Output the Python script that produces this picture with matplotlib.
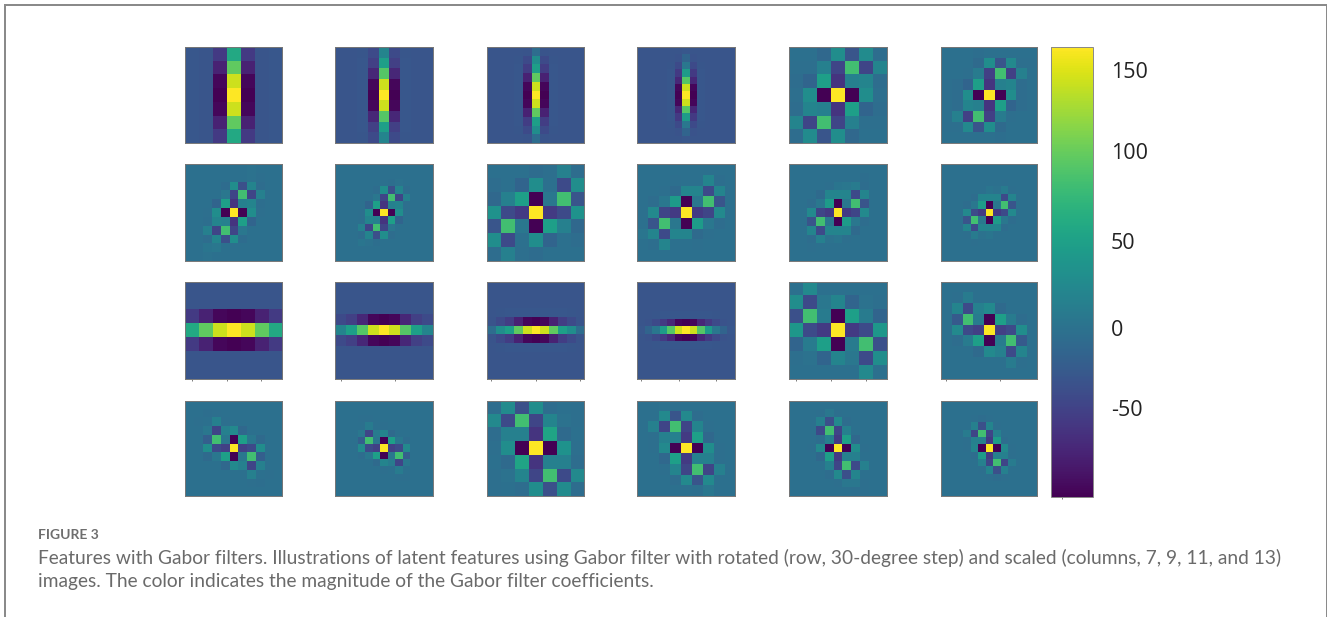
import matplotlib
matplotlib.use('Agg')
import matplotlib.pyplot as plt
from matplotlib.cm import ScalarMappable
from matplotlib.colors import Normalize
from matplotlib.patches import Rectangle

W, H = 1328, 617

# Values, one grid per panel (row, column)
r1c1 = [[-28,-30,-55,60,-55,-30,-28],
        [-28,-30,-75,100,-75,-30,-28],
        [-28,-30,-95,145,-95,-30,-28],
        [-28,-30,-100,165,-100,-30,-28],
        [-28,-30,-95,145,-95,-30,-28],
        [-28,-30,-75,100,-75,-30,-28],
        [-28,-30,-55,60,-55,-30,-28]]
r1c2 = [[-30,-30,-29,-40,20,-40,-29,-30,-30],
        [-30,-30,-28,-50,50,-50,-28,-30,-30],
        [-30,-30,-28,-70,95,-70,-28,-30,-30],
        [-30,-30,-28,-95,145,-95,-28,-30,-30],
        [-30,-30,-28,-100,165,-100,-28,-30,-30],
        [-30,-30,-28,-95,145,-95,-28,-30,-30],
        [-30,-30,-28,-70,95,-70,-28,-30,-30],
        [-30,-30,-28,-50,50,-50,-28,-30,-30],
        [-30,-30,-29,-40,20,-40,-29,-30,-30]]
r1c3 = [[-30,-30,-30,-30,-31,-5,-31,-30,-30,-30,-30],
        [-30,-30,-30,-29,-40,30,-40,-29,-30,-30,-30],
        [-30,-30,-30,-28,-52,50,-52,-28,-30,-30,-30],
        [-30,-30,-30,-28,-75,100,-75,-28,-30,-30,-30],
        [-30,-30,-30,-28,-95,145,-95,-28,-30,-30,-30],
        [-30,-30,-30,-28,-100,165,-100,-28,-30,-30,-30],
        [-30,-30,-30,-28,-95,145,-95,-28,-30,-30,-30],
        [-30,-30,-30,-28,-75,100,-75,-28,-30,-30,-30],
        [-30,-30,-30,-28,-52,50,-52,-28,-30,-30,-30],
        [-30,-30,-30,-29,-40,30,-40,-29,-30,-30,-30],
        [-30,-30,-30,-30,-31,-5,-31,-30,-30,-30,-30]]
r1c4 = [[-30,-30,-30,-30,-30,-30,-28,-30,-30,-30,-30,-30,-30],
        [-30,-30,-30,-30,-30,-32,-15,-32,-30,-30,-30,-30,-30],
        [-30,-30,-30,-30,-29,-40,5,-40,-29,-30,-30,-30,-30],
        [-30,-30,-30,-30,-28,-55,45,-55,-28,-30,-30,-30,-30],
        [-30,-30,-30,-30,-28,-70,95,-70,-28,-30,-30,-30,-30],
        [-30,-30,-30,-30,-28,-95,145,-95,-28,-30,-30,-30,-30],
        [-30,-30,-30,-30,-28,-100,165,-100,-28,-30,-30,-30,-30],
        [-30,-30,-30,-30,-28,-95,145,-95,-28,-30,-30,-30,-30],
        [-30,-30,-30,-30,-28,-70,95,-70,-28,-30,-30,-30,-30],
        [-30,-30,-30,-30,-28,-55,45,-55,-28,-30,-30,-30,-30],
        [-30,-30,-30,-30,-29,-40,5,-40,-29,-30,-30,-30,-30],
        [-30,-30,-30,-30,-30,-32,-15,-32,-30,-30,-30,-30,-30],
        [-30,-30,-30,-30,-30,-30,-28,-30,-30,-30,-30,-30,-30]]
r1c5 = [[-2,-2,-10,30,-30,28,-5],
        [-3,-3,15,-45,85,-45,20],
        [-5,-15,50,-60,15,20,-5],
        [-3,30,-100,165,-100,30,-3],
        [-5,20,15,-60,50,-15,-5],
        [20,-45,85,-45,15,-3,-3],
        [-5,28,-30,30,-10,-2,-2]]
r1c6 = [[-2,-2,-2,-4,-2,-2,-2,-2,-2],
        [-2,-2,-2,-8,30,-30,25,-3,-3],
        [-2,-2,-3,10,-50,85,-50,15,-2],
        [-3,-5,-15,50,-60,15,20,-5,-2],
        [-3,-5,30,-100,165,-100,30,-5,-3],
        [-2,-5,20,15,-60,50,-15,-5,-3],
        [-2,15,-50,85,-50,10,-3,-2,-2],
        [-3,-3,25,-30,30,-8,-2,-2,-2],
        [-2,-2,-2,-2,-2,-4,-2,-2,-2]]

r2c1 = [[-2,-2,-2,-2,-2,-2,-2,0,-2,-2,-2],
        [-2,-2,-2,-2,-2,-2,-2,0,-3,-2,-2],
        [-2,-2,-2,-2,-6,30,-35,20,-5,-2,-2],
        [-2,-2,-2,-2,5,-45,85,-45,15,-2,-2],
        [-2,-2,-2,-15,50,-60,15,20,-4,-2,-2],
        [-2,-2,-3,30,-100,165,-100,30,-3,-2,-2],
        [-2,-2,-4,20,15,-60,50,-15,-2,-2,-2],
        [-2,-2,15,-45,85,-45,5,-2,-2,-2,-2],
        [-2,-2,-5,20,-35,30,-6,-2,-2,-2,-2],
        [-2,-2,3,5,-2,-2,-2,-2,-2,-2,-2],
        [-2,-2,0,-2,-2,-2,-2,-2,-2,-2,-2]]
r2c2 = [[-2,-2,-2,-2,-2,-2,-2,-2,-2,-2,-2,-2,-2],
        [-2,-2,-2,-2,-2,-2,-2,-2,-2,-2,-2,-2,-2],
        [-2,-2,-2,-2,-2,-2,-2,-4,0,-2,-2,-2,-2],
        [-2,-2,-2,-2,-2,-5,30,-35,20,-5,-2,-2,-2],
        [-2,-2,-2,-2,-2,5,-45,85,-45,15,-2,-2,-2],
        [-2,-2,-2,-2,-15,50,-60,15,20,-3,-2,-2,-2],
        [-2,-2,-2,-3,30,-100,165,-100,30,-3,-2,-2,-2],
        [-2,-2,-2,-3,20,15,-60,50,-15,-2,-2,-2,-2],
        [-2,-2,-2,15,-45,85,-45,5,-2,-2,-2,-2,-2],
        [-2,-2,-2,-5,20,-35,30,-5,-2,-2,-2,-2,-2],
        [-2,-2,-2,3,0,-4,-2,-2,-2,-2,-2,-2,-2],
        [-2,-2,-2,-2,-2,-2,-2,-2,-2,-2,-2,-2,-2],
        [-2,-2,-2,-2,-2,-2,-2,-2,-2,-2,-2,-2,-2]]
r2c3 = [[-2,-2,-2,-6,-3,15,-5],
        [-5,-2,-15,30,-2,-40,30],
        [-10,15,50,-100,5,85,-30],
        [35,-40,-55,165,-55,-40,35],
        [-30,85,5,-100,50,15,-10],
        [30,-40,-2,30,-15,-2,-5],
        [-5,15,-3,-6,-2,-2,-2]]
r2c4 = [[-2,-2,-2,-2,-2,-2,-2,-2,-2],
        [-2,-2,-2,-3,-2,-2,20,-4,-2],
        [-2,-2,-3,-8,20,20,-40,20,-2],
        [-2,-5,5,45,-100,5,85,-30,-2],
        [-2,25,-45,-55,165,-55,-45,25,-2],
        [-2,-30,85,5,-100,45,5,-5,-2],
        [3,20,-40,20,20,-8,-3,-2,-2],
        [-2,-4,20,-2,-2,-3,-2,-2,-2],
        [-2,-2,-2,-2,-2,-2,-2,-2,-2]]
r2c5 = [[-2,-2,-2,-2,-2,-2,-2,-2,-2,-2,-2],
        [-2,-2,-2,-2,-2,-2,-2,-2,-4,-2,-2],
        [-2,-2,-2,-2,-3,3,5,10,-5,-2,-2],
        [-2,-2,-2,-8,20,20,20,-40,20,-2,-2],
        [-2,-2,-5,5,45,-100,5,85,-30,-2,-2],
        [-2,-2,25,-45,-55,165,-55,-45,25,-2,-2],
        [-2,-2,-30,85,5,-100,45,5,-5,-2,-2],
        [-2,-2,20,-40,20,20,20,-8,-2,-2,-2],
        [-2,-2,-5,15,0,3,-3,-2,-2,-2,-2],
        [-2,-2,-3,-2,-2,-2,-2,-2,-2,-2,-2],
        [-2,-2,-2,-2,-2,-2,-2,-2,-2,-2,-2]]
r2c6 = [[-2,-2,-2,-2,-2,-2,-2,-2,-2,-2,-2,-2,-2],
        [-2,-2,-2,-2,-2,-2,-2,-2,-2,-2,-2,-2,-2],
        [-2,-2,-2,-2,-2,-2,-2,-2,-3,-2,-2,-2,-2],
        [-2,-2,-2,-2,-2,-2,3,0,10,-3,-2,-2,-2],
        [-2,-2,-2,-2,-5,20,20,20,-40,20,-2,-2,-2],
        [-2,-2,-2,-5,5,45,-100,5,85,-30,-2,-2,-2],
        [-2,-2,-2,25,-40,-55,165,-55,-40,25,-2,-2,-2],
        [-2,-2,-2,-30,85,5,-100,45,5,-5,-2,-2,-2],
        [-2,-2,-2,20,-40,20,20,20,-5,-2,-2,-2,-2],
        [-2,-2,-2,-3,10,0,3,-2,-2,-2,-2,-2,-2],
        [-2,-2,-2,-2,-3,-2,-2,-2,-2,-2,-2,-2,-2],
        [-2,-2,-2,-2,-2,-2,-2,-2,-2,-2,-2,-2,-2],
        [-2,-2,-2,-2,-2,-2,-2,-2,-2,-2,-2,-2,-2]]

r3c1 = [[-30,-30,-30,-30,-30,-30,-30],
        [-30,-30,-30,-30,-30,-30,-30],
        [-55,-75,-95,-100,-95,-75,-55],
        [60,100,145,165,145,100,60],
        [-55,-75,-95,-100,-95,-75,-55],
        [-30,-30,-30,-30,-30,-30,-30],
        [-30,-30,-30,-30,-30,-30,-30]]
r3c2 = [[-30,-30,-30,-30,-30,-30,-30,-30,-30],
        [-30,-30,-30,-30,-30,-30,-30,-30,-30],
        [-30,-30,-30,-30,-30,-30,-30,-30,-30],
        [-40,-50,-70,-95,-100,-95,-70,-50,-40],
        [20,50,95,145,165,145,95,50,20],
        [-40,-50,-70,-95,-100,-95,-70,-50,-40],
        [-30,-30,-30,-30,-30,-30,-30,-30,-30],
        [-30,-30,-30,-30,-30,-30,-30,-30,-30],
        [-30,-30,-30,-30,-30,-30,-30,-30,-30]]
r3c3 = [[-30,-30,-30,-30,-30,-30,-30,-30,-30,-30,-30],
        [-30,-30,-30,-30,-30,-30,-30,-30,-30,-30,-30],
        [-30,-30,-30,-30,-30,-30,-30,-30,-30,-30,-30],
        [-30,-29,-28,-28,-28,-28,-28,-28,-28,-29,-30],
        [-31,-40,-52,-75,-95,-100,-95,-75,-52,-40,-31],
        [-5,30,50,100,145,165,145,100,50,30,-5],
        [-31,-40,-52,-75,-95,-100,-95,-75,-52,-40,-31],
        [-30,-29,-28,-28,-28,-28,-28,-28,-28,-29,-30],
        [-30,-30,-30,-30,-30,-30,-30,-30,-30,-30,-30],
        [-30,-30,-30,-30,-30,-30,-30,-30,-30,-30,-30],
        [-30,-30,-30,-30,-30,-30,-30,-30,-30,-30,-30]]
r3c4 = [[-30,-30,-30,-30,-30,-30,-30,-30,-30,-30,-30,-30,-30],
        [-30,-30,-30,-30,-30,-30,-30,-30,-30,-30,-30,-30,-30],
        [-30,-30,-30,-30,-30,-30,-30,-30,-30,-30,-30,-30,-30],
        [-30,-30,-30,-30,-30,-30,-30,-30,-30,-30,-30,-30,-30],
        [-30,-30,-29,-28,-28,-28,-28,-28,-28,-28,-29,-30,-30],
        [-30,-32,-40,-55,-70,-95,-100,-95,-70,-55,-40,-32,-30],
        [-28,-15,5,45,95,145,165,145,95,45,5,-15,-28],
        [-30,-32,-40,-55,-70,-95,-100,-95,-70,-55,-40,-32,-30],
        [-30,-30,-29,-28,-28,-28,-28,-28,-28,-28,-29,-30,-30],
        [-30,-30,-30,-30,-30,-30,-30,-30,-30,-30,-30,-30,-30],
        [-30,-30,-30,-30,-30,-30,-30,-30,-30,-30,-30,-30,-30],
        [-30,-30,-30,-30,-30,-30,-30,-30,-30,-30,-30,-30,-30],
        [-30,-30,-30,-30,-30,-30,-30,-30,-30,-30,-30,-30,-30]]
r3c5 = [[-2,25,-2,-2,-2,-2,-2],
        [30,-40,5,20,-15,0,-3],
        [-35,85,10,-100,50,10,-15],
        [40,-40,-55,165,-55,-40,40],
        [-15,10,50,-100,10,85,-35],
        [-3,0,-15,20,5,-40,30],
        [-2,-2,-2,-2,-2,25,-2]]
r3c6 = [[-2,-2,-2,-2,-2,-2,-2,-2,-2],
        [-2,-3,10,-2,-2,-2,-2,-2,-2],
        [-2,20,-40,15,25,-8,-2,-2,-2],
        [-2,-25,85,10,-100,50,10,-5,-2],
        [-2,25,-40,-50,165,-50,-40,30,-2],
        [-2,-5,10,50,-100,10,85,-25,-2],
        [-2,-2,-2,-8,25,15,-40,20,-2],
        [-2,-2,-2,-2,-2,-2,10,-3,-2],
        [-2,-2,-2,-2,-2,-2,-2,-2,-2]]

r4c1 = [[-2,-2,-2,-2,-2,-2,-2,-2,-2,-2,-2],
        [-2,-2,-4,-3,-2,-2,-2,-2,-2,-2,-2],
        [-2,-3,-2,15,-3,-2,-2,-2,-2,-2,-2],
        [-2,-2,5,-45,15,25,-10,-2,-2,-2,-2],
        [-2,-2,-20,85,5,-100,50,5,-8,-2,-2],
        [-2,-2,30,-40,-50,165,-50,-40,30,-2,-2],
        [-2,-2,-8,5,50,-100,5,85,-20,-2,-2],
        [-2,-2,-2,-2,-10,25,15,-45,15,-2,-2],
        [-2,-2,-2,-2,-2,-2,-2,15,-2,-3,-2],
        [-2,-2,-2,-2,-2,-2,-2,-3,-4,-2,-2],
        [-2,-2,-2,-2,-2,-2,-2,-2,-2,-2,-2]]
r4c2 = [[-2,-2,-2,-2,-2,-2,-2,-2,-2,-2,-2,-2,-2],
        [-2,-2,-2,-2,-2,-2,-2,-2,-2,-2,-2,-2,-2],
        [-2,-2,-2,-3,-3,-2,-2,-2,-2,-2,-2,-2,-2],
        [-2,-2,-2,-2,10,-2,-3,-2,-2,-2,-2,-2,-2],
        [-2,-2,-2,5,-45,10,20,-8,-2,-2,-2,-2,-2],
        [-2,-2,-2,-20,85,5,-100,50,5,-5,-2,-2,-2],
        [-2,-2,-2,25,-40,-50,165,-50,-40,25,-2,-2,-2],
        [-2,-2,-2,-5,5,50,-100,5,85,-20,-2,-2,-2],
        [-2,-2,-2,-2,-2,-8,20,10,-45,5,-2,-2,-2],
        [-2,-2,-2,-2,-2,-2,-3,-2,10,-2,-2,-2,-2],
        [-2,-2,-2,-2,-2,-2,-2,-2,-3,-3,-2,-2,-2],
        [-2,-2,-2,-2,-2,-2,-2,-2,-2,-2,-2,-2,-2],
        [-2,-2,-2,-2,-2,-2,-2,-2,-2,-2,-2,-2,-2]]
r4c3 = [[-5,28,-35,30,-5,-2,-3],
        [25,-40,85,-45,20,0,-3],
        [-5,15,15,-60,55,-8,-2],
        [-3,30,-100,165,-100,35,-3],
        [-2,-8,55,-60,15,15,-5],
        [-3,0,20,-45,85,-40,25],
        [-3,-2,-5,30,-35,28,-5]]
r4c4 = [[-2,-2,0,-3,-2,-2,-2,-2,-2],
        [-2,-2,25,-30,25,-5,-2,-2,-2],
        [-2,15,-45,85,-45,20,-3,-2,-2],
        [-2,-3,15,15,-55,50,-10,-2,-2],
        [-2,-3,25,-100,165,-100,30,-3,-2],
        [-2,-2,-10,50,-55,15,15,-3,-2],
        [-2,-2,-3,20,-45,85,-45,15,-2],
        [-2,-2,-2,-5,25,-30,25,-2,-2],
        [-2,-2,-2,-2,-2,-3,5,-2,-2]]
r4c5 = [[-2,-2,-2,-2,-2,-2,-2,-2,-2,-2,-2],
        [-2,-2,-2,-3,5,-3,-2,-2,-2,-2,-2],
        [-2,-2,-2,15,-35,25,-5,-2,-2,-2,-2],
        [-2,-2,-2,-40,85,-45,15,-2,-2,-2,-2],
        [-2,-2,-2,-5,15,-55,50,-10,-2,-2,-2],
        [-2,-2,-3,25,-100,165,-100,30,-3,-2,-2],
        [-2,-2,-2,-10,50,-55,15,15,-2,-2,-2],
        [-2,-2,-2,-2,15,-45,85,-40,15,-2,-2],
        [-2,-2,-2,-2,-5,25,-35,20,-2,-2,-2],
        [-2,-2,-2,-2,-2,-3,5,5,-3,-2,-2],
        [-2,-2,-2,-2,-2,-2,-2,-3,-3,-2,-2]]
r4c6 = [[-2,-2,-2,-2,-2,-2,-2,-2,-2,-2,-2,-2,-2],
        [-2,-2,-2,-2,-2,-2,-2,-2,-2,-2,-2,-2,-2],
        [-2,-2,-2,-2,-3,-5,-3,-2,-2,-2,-2,-2,-2],
        [-2,-2,-2,-2,15,-35,20,-3,-2,-2,-2,-2,-2],
        [-2,-2,-2,10,-45,85,-45,15,-2,-2,-2,-2,-2],
        [-2,-2,-2,-3,15,15,-55,45,-5,-2,-2,-2,-2],
        [-2,-2,-2,-3,20,-100,165,-100,25,-3,-2,-2,-2],
        [-2,-2,-2,-2,-5,45,-55,15,15,-3,-2,-2,-2],
        [-2,-2,-2,-2,-2,15,-45,85,-45,10,-2,-2,-2],
        [-2,-2,-2,-2,-2,-3,20,-35,15,-2,-2,-2,-2],
        [-2,-2,-2,-2,-2,-2,-3,-5,-3,-2,-2,-2,-2],
        [-2,-2,-2,-2,-2,-2,-2,-2,-2,-2,-2,-2,-2],
        [-2,-2,-2,-2,-2,-2,-2,-2,-2,-2,-2,-2,-2]]

panels = [[r1c1, r1c2, r1c3, r1c4, r1c5, r1c6],
          [r2c1, r2c2, r2c3, r2c4, r2c5, r2c6],
          [r3c1, r3c2, r3c3, r3c4, r3c5, r3c6],
          [r4c1, r4c2, r4c3, r4c4, r4c5, r4c6]]

# Little ticks left under the third row only
row3_ticks = [[0, 2.5, 5], [0, 5], [0, 5, 10], [0, 5, 10], [0, 2.5, 5], [0, 5]]

cbar_ticks = [151.5, 104, 51, -0.5, -47.6]
cbar_labels = ['150', '100', '50', '0', '-50']

caption_head = 'FIGURE 3'
caption_lines = ['Features with Gabor filters. Illustrations of latent features using Gabor filter with rotated '
                 '(row, 30-degree step) and scaled (columns, 7, 9, 11, and 13)',
                 'images. The color indicates the magnitude of the Gabor filter coefficients.']

col_x = [(185, 282.3), (335.3, 433.3), (486.7, 584.3), (637.3, 735.3), (788.7, 886.7), (941, 1037.3)]
row_y = [(47.3, 143.3), (164.3, 261), (281.7, 379), (400.7, 496)]


def box(x0, y0, x1, y1):
    # pixel box, measured from the top left, to figure coordinates
    return [x0/W, 1 - y1/H, (x1 - x0)/W, (y1 - y0)/H]


norm = Normalize(vmin=-100, vmax=165)
fig = plt.figure(figsize=(W/100, H/100), dpi=100)

for i in range(4):
    for j in range(6):
        ax = fig.add_axes(box(col_x[j][0], row_y[i][0], col_x[j][1], row_y[i][1]))
        ax.imshow(panels[i][j], cmap='viridis', norm=norm, aspect='auto', interpolation='nearest')
        ax.set_yticks([])
        if i == 2:
            ax.set_xticks(row3_ticks[j])
            ax.set_xticklabels([])
            ax.tick_params(axis='x', length=1.5, width=0.6, color='#666666')
        else:
            ax.set_xticks([])
        for s in ax.spines.values():
            s.set_linewidth(0.7)
            s.set_color('#777777')

cax = fig.add_axes(box(1050.7, 47, 1093, 497))
cb = fig.colorbar(ScalarMappable(norm=norm, cmap='viridis'), cax=cax)
cb.set_ticks(cbar_ticks)
cb.set_ticklabels(cbar_labels)
cax.tick_params(axis='y', length=0, pad=13, labelsize=15.5, labelcolor='#222222')
for label in cax.get_yticklabels():
    label.set_family('Open Sans')
cax.set_xticks([0.27])
cax.set_xticklabels([])
cax.tick_params(axis='x', length=1.5, width=0.6, color='#666666')
cb.outline.set_linewidth(0.7)
cb.outline.set_edgecolor('#888888')

# Frame around the figure, open at the bottom of the image
frame_color = '#8a8a8a'
fig.add_artist(Rectangle((4/W, 1 - 6/H), (1327 - 4)/W, 1.5/H, transform=fig.transFigure, color=frame_color, lw=0))
fig.add_artist(Rectangle((4/W, 0), 1.5/W, 1 - 6/H, transform=fig.transFigure, color=frame_color, lw=0))
fig.add_artist(Rectangle((1325.5/W, 0), 1.5/W, 1 - 6/H, transform=fig.transFigure, color=frame_color, lw=0))

fig.text(38/W, 1 - 535/H, caption_head, family='Lato', fontsize=10, weight='bold', color='#6e6e6e', va='center')
fig.text(38/W, 1 - 558/H, caption_lines[0], family='Lato', fontsize=13.75, color='#6a6a6a', va='center')
fig.text(38/W, 1 - 581/H, caption_lines[1], family='Lato', fontsize=13.75, color='#6a6a6a', va='center')

fig.savefig('out.png', dpi=100)
